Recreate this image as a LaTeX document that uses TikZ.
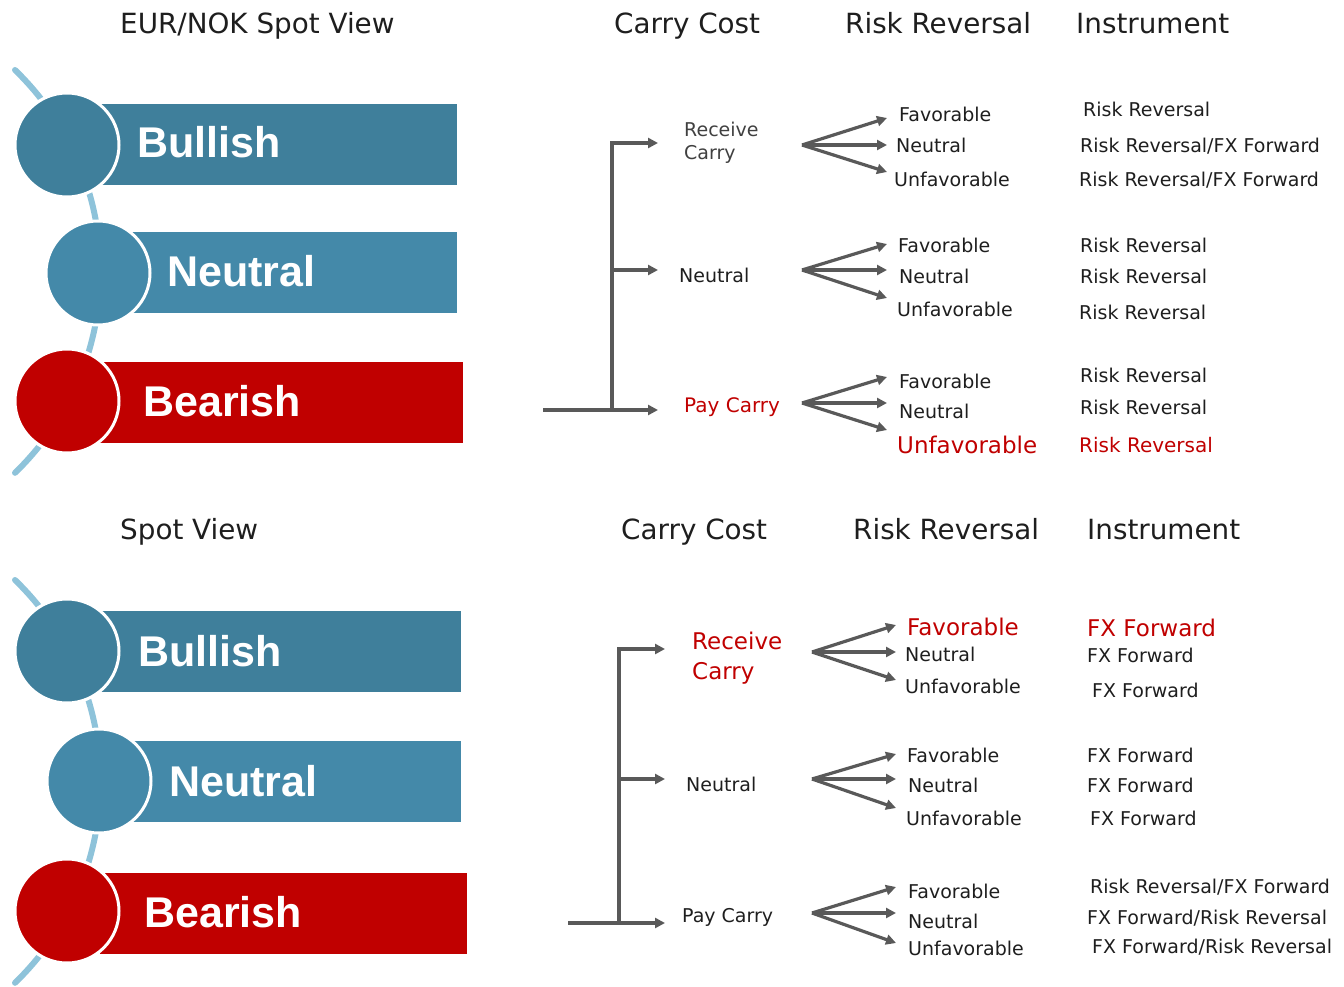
\documentclass[tikz,border=0pt]{standalone}
\usepackage{fontspec}
\setmainfont{DejaVu Sans}
\newfontfamily\barfont{Liberation Sans}
\usepackage{tikz}
\usetikzlibrary{arrows.meta}
\definecolor{bullBlue}{HTML}{3F7F9B}
\definecolor{neuBlue}{HTML}{4489A9}
\definecolor{bearRed}{HTML}{C00000}
\definecolor{arcBlue}{HTML}{8EC3DA}
\definecolor{arrowGray}{HTML}{595959}
\definecolor{txtBlack}{HTML}{1E1E1E}
\definecolor{txtGray}{HTML}{404040}
\tikzstyle{edge}=[draw=arrowGray, line width=3.2pt, -{Triangle[length=10pt,width=10pt]}]
\tikzstyle{stem}=[draw=arrowGray, line width=3.2pt]
\tikzstyle{arcLine}=[draw=arcBlue, line width=6pt, line cap=round]
\tikzstyle{dot}=[circle, draw=white, line width=3pt, minimum size=104pt, inner sep=0pt]
\tikzstyle{barTxt}=[anchor=base west, inner sep=0pt, text=white, font={\barfont\bfseries\fontsize{43}{50}\selectfont}]
\tikzstyle{head}=[anchor=base west, inner sep=0pt, text=txtBlack, font=\fontsize{27.8}{32}\selectfont]
\tikzstyle{lbl}=[anchor=base west, inner sep=0pt, text=txtBlack, font=\fontsize{19}{23}\selectfont]
\tikzstyle{lblRed}=[lbl, text=bearRed]
\tikzstyle{lblBig}=[anchor=base west, inner sep=0pt, text=bearRed, align=left, font=\fontsize{23}{30}\selectfont]

\begin{document}
\begin{tikzpicture}[x=1pt, y=-1pt]
      \useasboundingbox (0,0) rectangle (1344,987);

      % EUR/NOK view, upper half
      \node(hA1) [head] at (120,34) {EUR/NOK Spot View};
      \node(hA2) [head] at (614,34) {Carry Cost};
      \node(hA3) [head] at (845,34) {Risk Reversal};
      \node(hA4) [head] at (1076,34) {Instrument};

      \draw[arcLine] (15,70) arc(-46:46:280);
      \fill[bullBlue] (100,104) rectangle (457,185);
      \fill[neuBlue] (130,232) rectangle (457,313);
      \fill[bearRed] (100,362) rectangle (463,443);
      \node(bullA) [dot, fill=bullBlue] at (67,145){};
      \node(neuA) [dot, fill=neuBlue] at (98,273){};
      \node(bearA) [dot, fill=bearRed] at (67,401){};
      \node(bullAT) [barTxt] at (137,158) {Bullish};
      \node(neuAT) [barTxt] at (167,287) {Neutral};
      \node(bearAT) [barTxt] at (143,416) {Bearish};

      \coordinate(rootA) at (543,410);
      \coordinate(jointA) at (612,410);
      \coordinate(midA) at (612,270);
      \coordinate(recTipA) at (658,143);
      \coordinate(neuTipA) at (658,270);
      \coordinate(payTipA) at (658,410);
      \draw[stem] (rootA) -- (jointA);
      \draw[edge] (jointA) |- (recTipA);
      \draw[edge] (midA) -- (neuTipA);
      \draw[edge] (jointA) -- (payTipA);

      \node(recA) [lbl, text=txtGray, align=left] at (684,160) {Receive\\Carry};
      \node(neuCA) [lbl] at (679,282) {Neutral};
      \node(payA) [lbl, text=bearRed, font=\fontsize{20}{24}\selectfont] at (684,412) {Pay Carry};

      \coordinate(fanA1) at (802,145);
      \coordinate(fanA2) at (802,270);
      \coordinate(fanA3) at (802,403);
      \coordinate(a1f) at (887,118);
      \coordinate(a1n) at (887,145);
      \coordinate(a1u) at (887,172);
      \coordinate(a2f) at (887,244);
      \coordinate(a2n) at (887,270);
      \coordinate(a2u) at (887,298);
      \coordinate(a3f) at (887,377);
      \coordinate(a3n) at (887,403);
      \coordinate(a3u) at (887,430);
      \draw[edge] (fanA1) -- (a1f);
      \draw[edge] (fanA1) -- (a1n);
      \draw[edge] (fanA1) -- (a1u);
      \draw[edge] (fanA2) -- (a2f);
      \draw[edge] (fanA2) -- (a2n);
      \draw[edge] (fanA2) -- (a2u);
      \draw[edge] (fanA3) -- (a3f);
      \draw[edge] (fanA3) -- (a3n);
      \draw[edge] (fanA3) -- (a3u);

      \node(rrA1) [lbl] at (899,122) {Favorable};
      \node(rrA2) [lbl] at (896,153) {Neutral};
      \node(rrA3) [lbl] at (894,187) {Unfavorable};
      \node(rrA4) [lbl] at (898,253) {Favorable};
      \node(rrA5) [lbl] at (899,283) {Neutral};
      \node(rrA6) [lbl] at (897,316) {Unfavorable};
      \node(rrA7) [lbl] at (899,388) {Favorable};
      \node(rrA8) [lbl] at (899,418) {Neutral};
      \node(rrA9) [lblBig] at (897,453) {Unfavorable};

      \node(inA1) [lbl] at (1083,117) {Risk Reversal};
      \node(inA2) [lbl] at (1080,153) {Risk Reversal/FX Forward};
      \node(inA3) [lbl] at (1079,187) {Risk Reversal/FX Forward};
      \node(inA4) [lbl] at (1080,252) {Risk Reversal};
      \node(inA5) [lbl] at (1080,283) {Risk Reversal};
      \node(inA6) [lbl] at (1079,319) {Risk Reversal};
      \node(inA7) [lbl] at (1080,382) {Risk Reversal};
      \node(inA8) [lbl] at (1080,414) {Risk Reversal};
      \node(inA9) [lblRed, font=\fontsize{20}{24}\selectfont] at (1079,452) {Risk Reversal};

      % generic view, lower half
      \node(hB1) [head] at (120,539) {Spot View};
      \node(hB2) [head] at (621,539) {Carry Cost};
      \node(hB3) [head] at (853,539) {Risk Reversal};
      \node(hB4) [head] at (1087,539) {Instrument};

      \draw[arcLine] (15,580) arc(-46:46:280);
      \fill[bullBlue] (100,611) rectangle (461,692);
      \fill[neuBlue] (130,741) rectangle (461,822);
      \fill[bearRed] (100,873) rectangle (467,954);
      \node(bullB) [dot, fill=bullBlue] at (67,651){};
      \node(neuB) [dot, fill=neuBlue] at (99,781){};
      \node(bearB) [dot, fill=bearRed] at (67,911){};
      \node(bullBT) [barTxt] at (138,666) {Bullish};
      \node(neuBT) [barTxt] at (169,796) {Neutral};
      \node(bearBT) [barTxt] at (144,927) {Bearish};

      \coordinate(rootB) at (568,923);
      \coordinate(jointB) at (619,923);
      \coordinate(midB) at (619,779);
      \coordinate(recTipB) at (665,649);
      \coordinate(neuTipB) at (665,779);
      \coordinate(payTipB) at (665,923);
      \draw[stem] (rootB) -- (jointB);
      \draw[edge] (jointB) |- (recTipB);
      \draw[edge] (midB) -- (neuTipB);
      \draw[edge] (jointB) -- (payTipB);

      \node(recB) [lblBig] at (692,679) {Receive\\Carry};
      \node(neuCB) [lbl] at (686,791) {Neutral};
      \node(payB) [lbl] at (682,922) {Pay Carry};

      \coordinate(fanB1) at (812,652);
      \coordinate(fanB2) at (812,779);
      \coordinate(fanB3) at (812,913);
      \coordinate(b1f) at (896,625);
      \coordinate(b1n) at (896,652);
      \coordinate(b1u) at (896,680);
      \coordinate(b2f) at (896,754);
      \coordinate(b2n) at (896,779);
      \coordinate(b2u) at (896,808);
      \coordinate(b3f) at (896,887);
      \coordinate(b3n) at (896,913);
      \coordinate(b3u) at (896,943);
      \draw[edge] (fanB1) -- (b1f);
      \draw[edge] (fanB1) -- (b1n);
      \draw[edge] (fanB1) -- (b1u);
      \draw[edge] (fanB2) -- (b2f);
      \draw[edge] (fanB2) -- (b2n);
      \draw[edge] (fanB2) -- (b2u);
      \draw[edge] (fanB3) -- (b3f);
      \draw[edge] (fanB3) -- (b3n);
      \draw[edge] (fanB3) -- (b3u);

      \node(rrB1) [lblBig] at (907,635) {Favorable};
      \node(rrB2) [lbl] at (905,661) {Neutral};
      \node(rrB3) [lbl] at (905,693) {Unfavorable};
      \node(rrB4) [lbl] at (907,762) {Favorable};
      \node(rrB5) [lbl] at (908,792) {Neutral};
      \node(rrB6) [lbl] at (906,825) {Unfavorable};
      \node(rrB7) [lbl] at (908,898) {Favorable};
      \node(rrB8) [lbl] at (908,928) {Neutral};
      \node(rrB9) [lbl] at (908,955) {Unfavorable};

      \node(inB1) [lblBig] at (1087,636) {FX Forward};
      \node(inB2) [lbl] at (1087,662) {FX Forward};
      \node(inB3) [lbl] at (1092,697) {FX Forward};
      \node(inB4) [lbl] at (1087,762) {FX Forward};
      \node(inB5) [lbl] at (1087,792) {FX Forward};
      \node(inB6) [lbl] at (1090,825) {FX Forward};
      \node(inB7) [lbl] at (1090,893) {Risk Reversal/FX Forward};
      \node(inB8) [lbl] at (1087,924) {FX Forward/Risk Reversal};
      \node(inB9) [lbl] at (1092,953) {FX Forward/Risk Reversal};
\end{tikzpicture}
\end{document}
